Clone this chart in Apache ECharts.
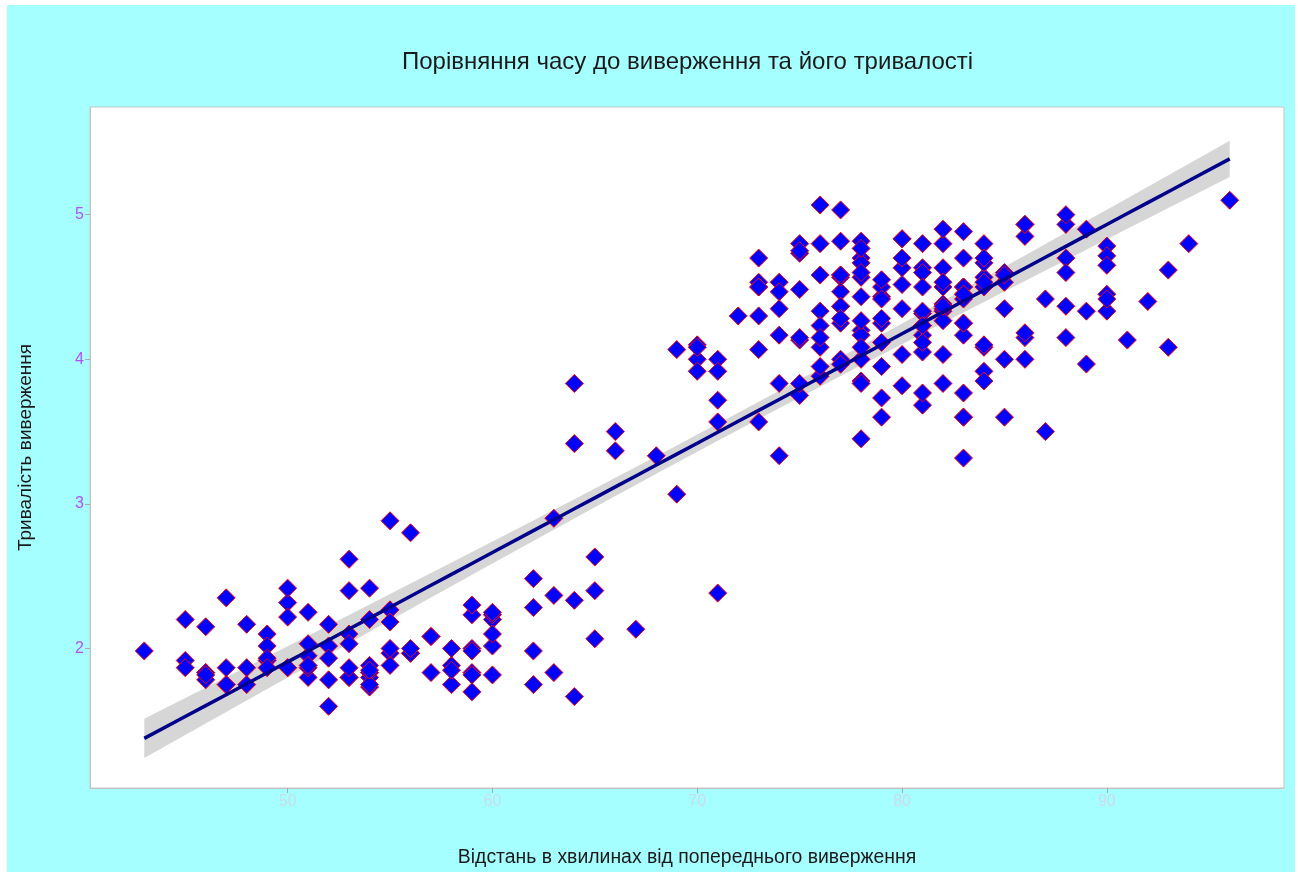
<!DOCTYPE html>
<html>
<head>
    <meta charset="UTF-8">
    <title>Виверження</title>
    <script src="https://cdn.jsdelivr.net/npm/echarts@6/dist/echarts.min.js"></script>
    <style>
        body { margin: 0; background: #fff; }
        #chart { position: absolute; left: 7px; top: 5px; width: 1288px; height: 867px; }
    </style>
</head>
<body>
<div id="chart"></div>
<script>
    // faithful: час очікування (хв) і тривалість виверження (хв)
    var waiting = [79,54,74,62,85,55,88,85,51,85,54,84,78,47,83,52,62,84,52,79,51,47,78,69,74,83,55,76,78,79,
        73,77,66,80,74,52,48,80,59,90,80,58,84,58,73,83,64,53,82,59,75,90,54,80,54,83,71,64,77,81,
        59,84,48,82,60,92,78,78,65,73,82,56,79,71,62,76,60,78,76,83,75,82,70,65,73,88,76,80,48,86,
        60,90,50,78,63,72,84,75,51,82,62,88,49,83,81,47,84,52,86,81,75,59,89,79,59,81,50,85,59,87,
        53,69,77,56,88,81,45,82,55,90,45,83,56,89,46,82,51,86,53,79,81,60,82,77,76,59,80,49,96,53,
        77,77,65,81,71,70,81,93,53,89,45,86,58,78,66,76,63,88,52,93,49,57,77,68,81,81,73,50,85,74,
        55,77,83,83,51,78,84,46,83,55,81,57,76,84,77,81,87,77,51,78,60,82,91,53,78,46,77,84,49,83,
        71,80,49,75,64,76,53,94,55,76,50,82,54,75,78,79,78,78,70,79,70,54,86,50,90,54,54,77,79,64,
        75,47,86,63,85,82,57,82,67,74,54,83,73,73,88,80,71,83,56,79,78,84,58,83,43,60,75,81,46,90,
        46,74];
    var eruptions = [3.6,1.8,3.333,2.283,4.533,2.883,4.7,3.6,1.95,4.35,1.833,3.917,4.2,1.75,4.7,2.167,1.75,4.8,1.6,4.25,
        1.8,1.75,3.45,3.067,4.533,3.6,1.967,4.083,3.85,4.433,4.3,4.467,3.367,4.033,3.833,2.017,1.867,4.833,1.833,4.783,
        4.35,1.883,4.567,1.75,4.533,3.317,3.833,2.1,4.633,2,4.8,4.716,1.833,4.833,1.733,4.883,3.717,1.667,4.567,4.317,
        2.233,4.5,1.75,4.8,1.817,4.4,4.167,4.7,2.067,4.7,4.033,1.967,4.5,4,1.983,5.067,2.017,4.567,3.883,3.6,
        4.133,4.333,4.1,2.633,4.067,4.933,3.95,4.517,2.167,4,2.2,4.333,1.867,4.817,1.833,4.3,4.667,3.75,1.867,4.9,
        2.483,4.367,2.1,4.5,4.05,1.867,4.7,1.783,4.85,3.683,4.733,2.3,4.9,4.417,1.7,4.633,2.317,4.6,1.817,4.417,
        2.617,4.067,4.25,1.967,4.6,3.767,1.917,4.5,2.267,4.65,1.867,4.167,2.8,4.333,1.833,4.383,1.883,4.933,2.033,3.733,
        4.233,2.233,4.533,4.817,4.333,1.983,4.633,2.017,5.1,1.8,5.033,4,2.4,4.6,3.567,4,4.5,4.083,1.8,3.967,
        2.2,4.15,2,3.833,3.5,4.583,2.367,5,1.933,4.617,1.917,2.083,4.583,3.333,4.167,4.333,4.5,2.417,4,4.167,
        1.883,4.583,4.25,3.767,2.033,4.433,4.083,1.833,4.417,2.183,4.8,1.833,4.8,4.1,3.966,4.233,3.5,4.366,2.25,4.667,
        2.1,4.35,4.133,1.867,4.6,1.783,4.367,3.85,1.933,4.5,2.383,4.7,1.867,3.833,3.417,4.233,2.4,4.8,2,4.15,
        1.867,4.267,1.75,4.483,4,4.117,4.083,4.267,3.917,4.55,4.083,2.417,4.183,2.217,4.45,1.883,1.85,4.283,3.95,2.333,
        4.15,2.35,4.933,2.9,4.583,3.833,2.083,4.367,2.133,4.35,2.2,4.45,3.567,4.5,4.15,3.817,3.917,4.45,2,4.283,
        4.767,4.533,1.85,4.25,1.983,2.25,4.75,4.117,2.15,4.417,1.817,4.467];

    var xTicks = [50, 60, 70, 80, 90];
    var yTicks = [2, 3, 4, 5];
    var title = 'Порівняння часу до виверження та його тривалості';
    var xName = 'Відстань в хвилинах від попереднього виверження';
    var yName = 'Тривалість виверження';

    // лінійна регресія + 95% довірчий інтервал (як geom_smooth(method = "lm"))
    var n = waiting.length;
    var mx = 0, my = 0;
    for (var i = 0; i < n; i++) { mx += waiting[i]; my += eruptions[i]; }
    mx /= n; my /= n;
    var sxx = 0, sxy = 0;
    for (i = 0; i < n; i++) {
        sxx += (waiting[i] - mx) * (waiting[i] - mx);
        sxy += (waiting[i] - mx) * (eruptions[i] - my);
    }
    var b = sxy / sxx, a = my - b * mx;
    var sse = 0;
    for (i = 0; i < n; i++) { var r = eruptions[i] - (a + b * waiting[i]); sse += r * r; }
    var s = Math.sqrt(sse / (n - 2));
    var tcrit = 1.9688;

    var xs = waiting.slice().sort(function (p, q) { return p - q; })
        .filter(function (v, k, arr) { return k == 0 || v != arr[k - 1]; });
    var fitLine = [], lower = [], upper = [];
    xs.forEach(function (x) {
        var yhat = a + b * x;
        var se = s * Math.sqrt(1 / n + (x - mx) * (x - mx) / sxx);
        fitLine.push([x, yhat]);
        lower.push([x, yhat - tcrit * se]);
        upper.push([x, yhat + tcrit * se]);
    });

    var points = waiting.map(function (w, k) { return [w, eruptions[k]]; });

    var myChart = echarts.init(document.getElementById('chart'));
    var option = {
        backgroundColor: '#a6ffff',
        animation: false,
        textStyle: { fontFamily: 'Liberation Sans, Arial, sans-serif' },
        title: {
            text: title,
            left: 395,
            top: 45,
            padding: 0,
            textStyle: { fontSize: 24, fontWeight: 'normal', color: '#1a1a1a' }
        },
        grid: {
            left: 83, top: 102, width: 1194, height: 681,
            show: true, backgroundColor: '#fff', borderColor: '#c4c4c4', borderWidth: 1
        },
        xAxis: {
            type: 'value', min: 40.35, max: 98.65,
            name: xName, nameLocation: 'middle', nameGap: 60,
            nameTextStyle: { fontSize: 19.4, color: '#1a1a1a' },
            axisLine: { show: true, lineStyle: { color: '#c4c4c4' } },
            splitLine: { show: false },
            axisTick: { show: true, length: 5, customValues: xTicks, lineStyle: { color: '#aaaaaa' } },
            axisLabel: { customValues: xTicks, fontSize: 16, color: '#c9dcea', margin: 6 }
        },
        yAxis: {
            type: 'value', min: 1.035, max: 5.745,
            name: yName, nameLocation: 'middle', nameGap: 55, nameRotate: 90,
            nameTextStyle: { fontSize: 19, color: '#1a1a1a' },
            axisLine: { show: true, lineStyle: { color: '#c4c4c4' } },
            splitLine: { show: false },
            axisTick: { show: true, length: 5, customValues: yTicks, lineStyle: { color: '#aaaaaa' } },
            axisLabel: { customValues: yTicks, fontSize: 16, color: '#b44dff', margin: 6 }
        },
        series: [
            {
                type: 'scatter',
                data: points,
                symbol: 'diamond',
                symbolSize: 18,
                itemStyle: { color: '#0000ff', borderColor: '#ff0000', borderWidth: 1, opacity: 1 }
            },
            {
                // довірча смуга: один багатокутник через api.coord
                type: 'custom',
                data: [lower[0]],
                clip: true,
                renderItem: function (params, api) {
                    var pts = [];
                    upper.forEach(function (d) { pts.push(api.coord(d)); });
                    for (var k = lower.length - 1; k >= 0; k--) pts.push(api.coord(lower[k]));
                    return {
                        type: 'polygon',
                        shape: { points: pts },
                        style: { fill: 'rgba(153,153,153,0.4)' }
                    };
                }
            },
            {
                type: 'line',
                data: fitLine,
                symbol: 'none',
                lineStyle: { color: '#00008b', width: 3.5 }
            }
        ]
    };
    myChart.setOption(option);
</script>
</body>
</html>
